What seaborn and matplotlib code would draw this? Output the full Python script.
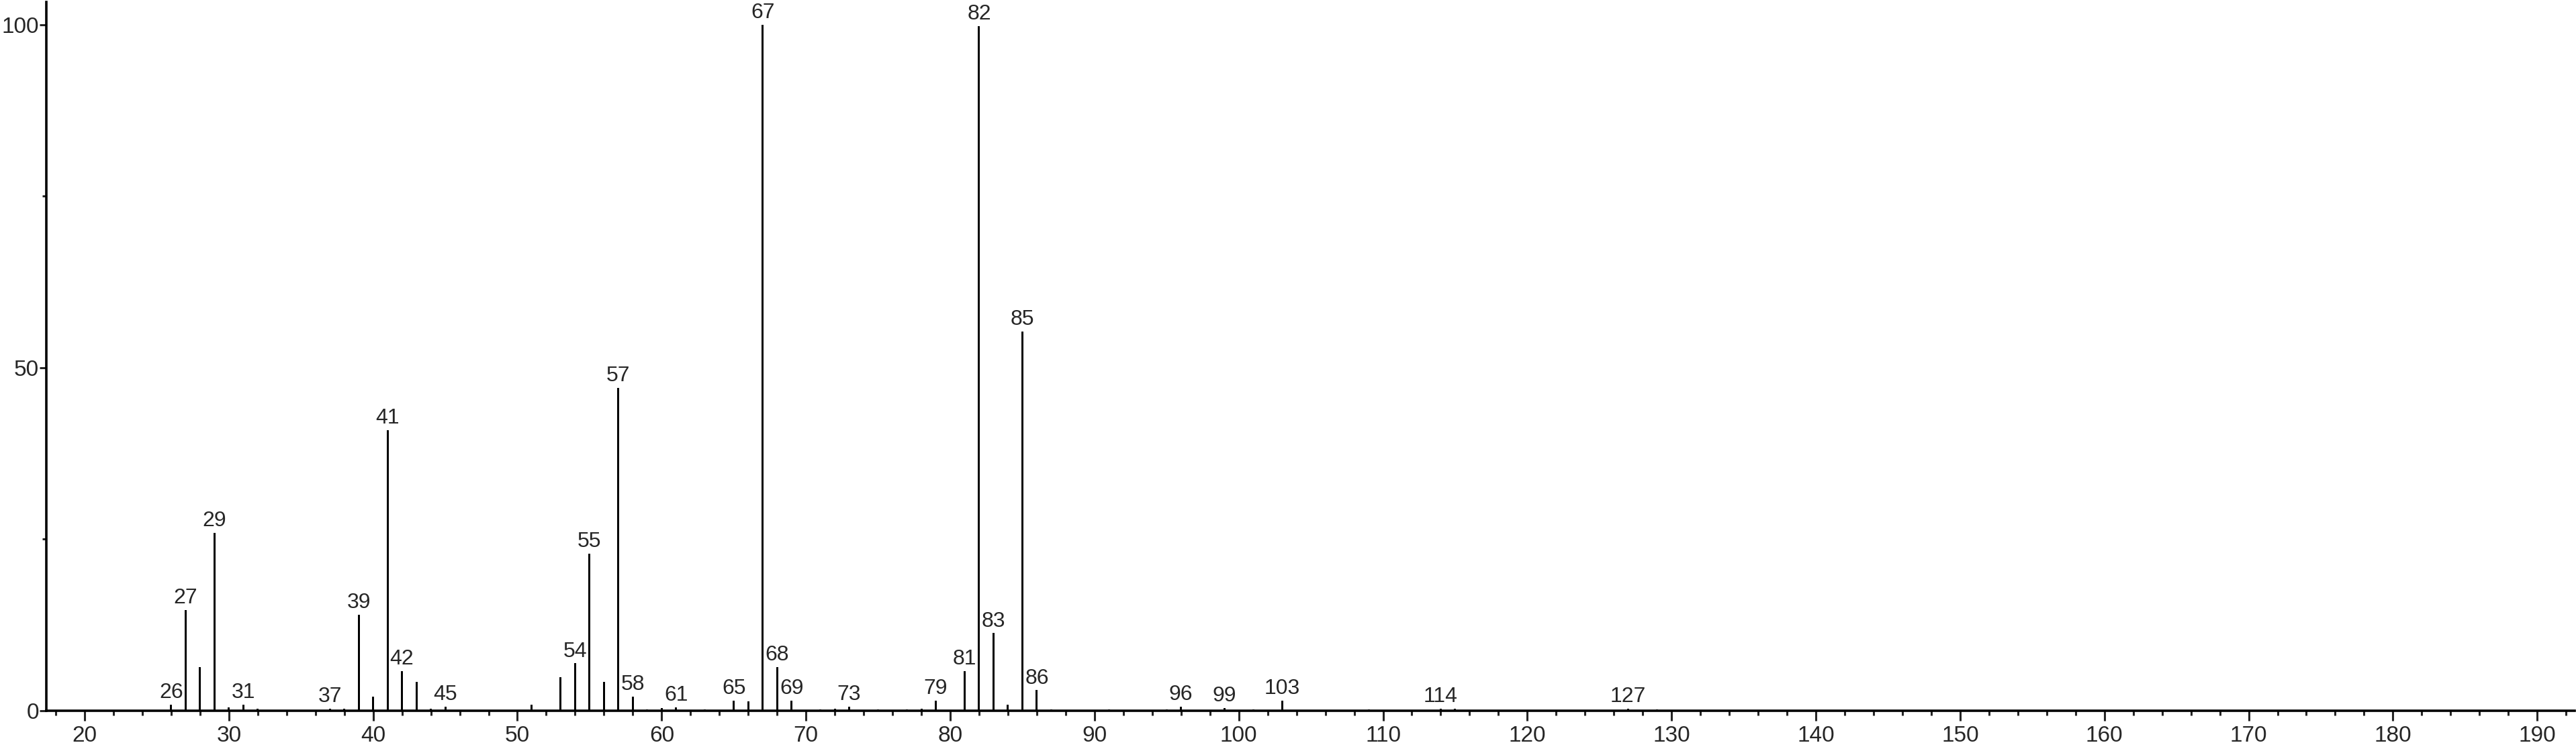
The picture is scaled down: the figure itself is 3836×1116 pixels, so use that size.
import numpy as np
import pandas as pd
import matplotlib
matplotlib.use("Agg")
import matplotlib.pyplot as plt
import seaborn as sns
from matplotlib.ticker import MultipleLocator

# m/z values and relative intensities
mz = [26, 27, 28, 29, 30, 31, 32, 37, 38, 39, 40, 41, 42, 43, 44, 45,
      51, 53, 54, 55, 56, 57, 58, 59, 60, 61, 63, 65, 66, 67, 68, 69,
      71, 72, 73, 75, 77, 78, 79, 81, 82, 83, 84, 85, 86, 87, 91, 95,
      96, 99, 101, 103, 109, 114, 115, 127, 129]
intensity = [0.9, 14.7, 6.4, 25.9, 0.5, 0.9, 0.3, 0.3, 0.3, 14.0, 2.1, 40.9, 5.8, 4.2, 0.3, 0.6,
             0.9, 4.9, 6.9, 22.9, 4.2, 47.1, 2.1, 0.2, 0.4, 0.5, 0.2, 1.5, 1.4, 100.0, 6.4, 1.5,
             0.2, 0.3, 0.6, 0.2, 0.2, 0.3, 1.5, 5.8, 99.8, 11.3, 0.9, 55.3, 3.0, 0.2, 0.2, 0.2,
             0.6, 0.4, 0.2, 1.5, 0.2, 0.3, 0.3, 0.3, 0.2]
labelled = [26, 27, 29, 31, 37, 39, 41, 42, 45, 54, 55, 57, 58, 61, 65, 67, 68, 69,
            73, 79, 81, 82, 83, 85, 86, 96, 99, 103, 114, 127]

df = pd.DataFrame({"mz": mz, "intensity": intensity})

sns.set_style("ticks")
plt.rcParams["font.family"] = ["Liberation Sans", "DejaVu Sans"]

fig = plt.figure(figsize=(38.36, 11.16), dpi=100)
ax = fig.add_axes([0.018, 0.0511, 0.9815, 0.9462])

sns.barplot(data=df, x="mz", y="intensity", native_scale=True, orient="x",
            width=0.14, color="black", saturation=1, linewidth=0, ax=ax)

# peak labels
for m, v in zip(mz, intensity):
    if m in labelled:
        ax.annotate(str(m), (m, v), xytext=(0, 2), textcoords="offset points",
                    ha="center", va="bottom", fontsize=23)

ax.set_xlim(17.35, 192.6)
ax.set_ylim(0, 103.3)
ax.set_xlabel("")
ax.set_ylabel("")

ax.xaxis.set_major_locator(MultipleLocator(10))
ax.xaxis.set_minor_locator(MultipleLocator(2))
ax.set_yticks([0, 50, 100])
ax.yaxis.set_minor_locator(MultipleLocator(25))

ax.tick_params(axis="x", which="major", length=11, width=2.2, labelsize=24, pad=5, direction="out")
ax.tick_params(axis="x", which="minor", length=5, width=2.2, direction="out")
ax.tick_params(axis="y", which="major", length=7, width=2.2, labelsize=24, pad=1, direction="out")
ax.tick_params(axis="y", which="minor", length=4, width=2.2, direction="out")

sns.despine(ax=ax)
for s in ["left", "bottom"]:
    ax.spines[s].set_linewidth(2.6)
    ax.spines[s].set_color("black")

fig.savefig("out.png", dpi=100)
